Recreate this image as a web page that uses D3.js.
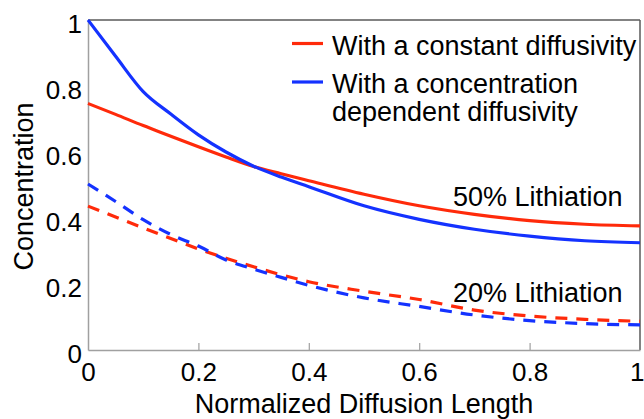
<!DOCTYPE html>
<html>
<head>
<meta charset="utf-8">
<script src="https://cdn.jsdelivr.net/npm/d3@7"></script>
<style>
  html, body { margin: 0; padding: 0; background: #fff; }
  svg { display: block; font-family: "Liberation Sans", Arial, sans-serif; }
</style>
</head>
<body>
<svg id="chart" width="644" height="419"></svg>
<script>
// ---- Data ----
const xValues   = [0, 0.05, 0.1, 0.15, 0.2, 0.25, 0.3, 0.35, 0.4, 0.5, 0.6, 0.7, 0.8, 0.9, 1.0];
const const50   = [0.747, 0.714, 0.680, 0.648, 0.616, 0.585, 0.556, 0.534, 0.513, 0.472, 0.437, 0.411, 0.392, 0.381, 0.376];
const conc50    = [1.000, 0.890, 0.783, 0.715, 0.652, 0.600, 0.557, 0.524, 0.495, 0.437, 0.396, 0.366, 0.345, 0.331, 0.325];
const const20   = [0.436, 0.403, 0.370, 0.338, 0.306, 0.278, 0.252, 0.228, 0.207, 0.178, 0.153, 0.121, 0.103, 0.093, 0.087];
const conc20    = [0.503, 0.450, 0.395, 0.350, 0.315, 0.273, 0.245, 0.220, 0.196, 0.158, 0.132, 0.106, 0.089, 0.080, 0.076];
const xTicks    = [0, 0.2, 0.4, 0.6, 0.8, 1];
const yTicks    = [0, 0.2, 0.4, 0.6, 0.8, 1];
const legendLabels = [["With a constant diffusivity"], ["With a concentration", "dependent diffusivity"]];
const annotations = ["50% Lithiation", "20% Lithiation"];
const RED = "#ff2a0a", BLUE = "#1432ff";

// ---- Layout ----
const svg = d3.select("#chart");
const L = 88, R = 640, T = 20, B = 350;
const x = d3.scaleLinear().domain([0, 1]).range([L, R]);
const y = d3.scaleLinear().domain([0, 1]).range([B, T]);

// Frame: top and right borders
svg.append("line").attr("x1", L).attr("x2", R).attr("y1", T).attr("y2", T)
  .attr("stroke", "#5a5a5a").attr("stroke-width", 1.5);
svg.append("line").attr("x1", R).attr("x2", R).attr("y1", T).attr("y2", B)
  .attr("stroke", "#5a5a5a").attr("stroke-width", 1.5);

// Bottom axis
const xAxis = svg.append("g").attr("transform", `translate(0,${B})`)
  .call(d3.axisBottom(x).tickValues(xTicks).tickFormat(d => d3.format("")(d))
    .tickSizeInner(-7).tickSizeOuter(0).tickPadding(13));
xAxis.select(".domain").attr("stroke", "#a0a0a0").attr("stroke-width", 1.5);
xAxis.selectAll(".tick line").attr("stroke", "#a0a0a0").attr("stroke-width", 1.2)
  .filter(d => d === 0 || d === 1).remove();
xAxis.selectAll(".tick text").attr("font-size", 26).attr("fill", "#000")
  .attr("font-family", "Liberation Sans, Arial, sans-serif");
// keep the last label inside the window
xAxis.selectAll(".tick text").filter(d => d === 1).attr("text-anchor", "end").attr("x", 4);

// Left axis
const yAxis = svg.append("g").attr("transform", `translate(${L},0)`)
  .call(d3.axisLeft(y).tickValues(yTicks).tickFormat(d => d3.format("")(d))
    .tickSize(0).tickPadding(6));
yAxis.select(".domain").attr("stroke", "#a0a0a0").attr("stroke-width", 1.5);
yAxis.selectAll(".tick text").attr("font-size", 26).attr("fill", "#000").attr("dy", "0.47em")
  .attr("font-family", "Liberation Sans, Arial, sans-serif");

// Axis titles
svg.append("text").attr("x", (L + R) / 2).attr("y", 413).attr("text-anchor", "middle")
  .attr("font-size", 27).text("Normalized Diffusion Length");
svg.append("text").attr("transform", "translate(33,186.5) rotate(-90)").attr("text-anchor", "middle")
  .attr("font-size", 27).text("Concentration");

// Lines
const series = [
  { vals: const20, color: RED,  dash: "12,9" },
  { vals: conc20,  color: BLUE, dash: "12,9" },
  { vals: const50, color: RED,  dash: null },
  { vals: conc50,  color: BLUE, dash: null }
];
const line = d3.line().x((d, i) => x(xValues[i])).y(d => y(d)).curve(d3.curveMonotoneX);
series.forEach(s => {
  svg.append("path").datum(s.vals).attr("d", line)
    .attr("fill", "none").attr("stroke", s.color).attr("stroke-width", 3.2)
    .attr("stroke-dasharray", s.dash);
});

// Legend
const legendColors = [RED, BLUE];
const legendRowY = [43.5, 82];
legendLabels.forEach((lines, i) => {
  svg.append("line").attr("x1", 292).attr("x2", 323)
    .attr("y1", legendRowY[i]).attr("y2", legendRowY[i])
    .attr("stroke", legendColors[i]).attr("stroke-width", 3.2);
  lines.forEach((t, j) => {
    svg.append("text").attr("x", 332).attr("y", legendRowY[i] + 11 + j * 28)
      .attr("font-size", 27).text(t);
  });
});

// Annotations
svg.append("text").attr("x", 453).attr("y", 206).attr("font-size", 27).text(annotations[0]);
svg.append("text").attr("x", 453).attr("y", 302).attr("font-size", 27).text(annotations[1]);
</script>
</body>
</html>
